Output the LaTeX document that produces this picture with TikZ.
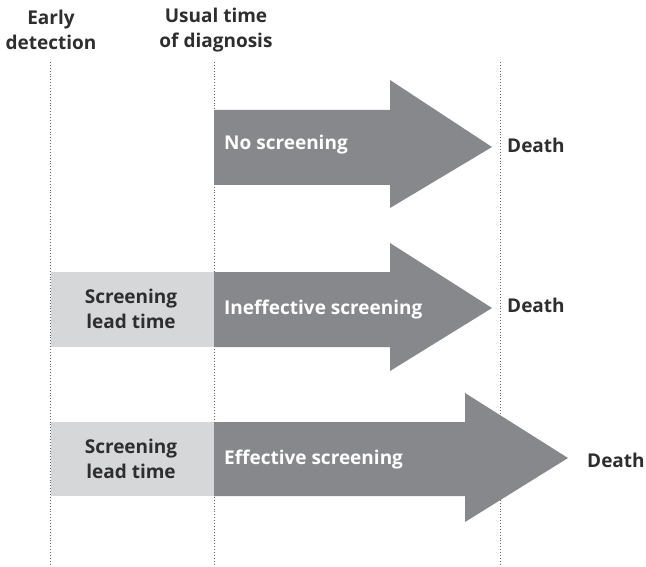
\documentclass[tikz,border=0pt]{standalone}
\usepackage{fontspec}
\setmainfont{Open Sans}
\begin{document}
\begin{tikzpicture}[x=1pt,y=-1pt,
  dark/.style={fill=arrowgray,draw=none},
  light/.style={fill=leadgray,draw=none},
  guide/.style={draw=black!60,dotted,line width=0.9pt},
  lbl/.style={font=\fontsize{19}{25.5}\selectfont\bfseries,text=textdark,inner sep=0pt,align=center},
  intext/.style={font=\fontsize{19}{25.5}\selectfont\bfseries,text=white,inner sep=0pt,anchor=west}]
\definecolor{arrowgray}{HTML}{87888C}
\definecolor{leadgray}{HTML}{D6D7D9}
\definecolor{textdark}{HTML}{2E2E30}
\useasboundingbox (0,0) rectangle (646,567);
% guides
\coordinate (e1) at (50,62); \coordinate (e2) at (50,567);
\coordinate (u1) at (214,62); \coordinate (u2) at (214,567);
\coordinate (d1) at (500,62); \coordinate (d2) at (500,567);
\draw[guide] (e1) -- (e2);
\draw[guide] (u1) -- (u2);
\draw[guide] (d1) -- (d2);
% headers
\node[lbl] (early) at (51,30) {Early\\detection};
\node[lbl] (usual) at (216,30) {Usual time\\of diagnosis};
% arrow 1
\fill[dark] (214,110) -- (390,110) -- (390,80) -- (492,147) -- (390,208) -- (390,185) -- (214,185) -- cycle;
\node[intext] (ns) at (224,145) {No screening};
\node[lbl,anchor=west] (death1) at (507,145) {Death};
% arrow 2
\fill[light] (51,272) rectangle (214,347);
\fill[dark] (214,272) -- (390,272) -- (390,243) -- (492,308) -- (390,371) -- (390,347) -- (214,347) -- cycle;
\node[lbl] (lead1) at (131,309) {Screening\\lead time};
\node[intext] (ins) at (224,310) {Ineffective screening};
\node[lbl,anchor=west] (death2) at (507,305) {Death};
% arrow 3
\fill[light] (51,422) rectangle (214,496);
\fill[dark] (214,422) -- (465,422) -- (465,393) -- (568,458) -- (465,522) -- (465,496) -- (214,496) -- cycle;
\node[lbl] (lead2) at (131,459) {Screening\\lead time};
\node[intext] (es) at (224,460) {Effective screening};
\node[lbl,anchor=west] (death3) at (587,460) {Death};
\end{tikzpicture}
\end{document}
